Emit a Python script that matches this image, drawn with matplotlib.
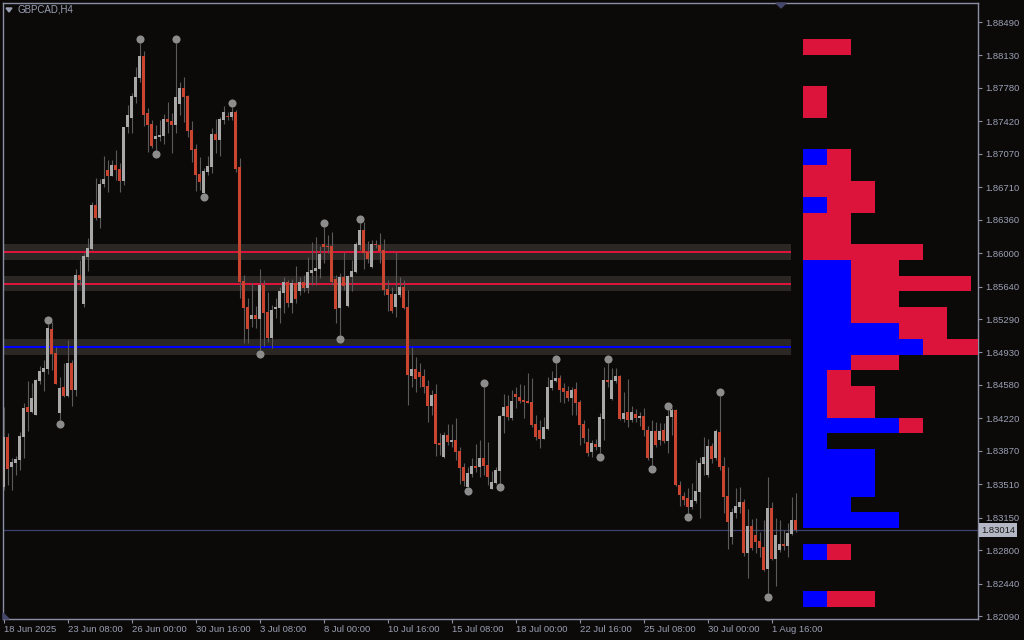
import matplotlib
matplotlib.use("Agg")
import matplotlib.pyplot as plt
import numpy as np
from matplotlib.patches import Polygon

symbol = "GBPCAD,H4"

opens = [
    1.83480, 1.84019, 1.83696, 1.83739, 1.83771, 1.84019, 1.84342, 1.84288, 1.84256, 1.84622,
    1.84719, 1.84751, 1.85182, 1.84924, 1.84278, 1.84557, 1.84460, 1.84816, 1.84525, 1.85764,
    1.85452, 1.85958, 1.86044, 1.86518, 1.86378, 1.86744, 1.86895, 1.86830, 1.86949, 1.86906,
    1.86777, 1.87358, 1.87456, 1.87682, 1.87887, 1.88124, 1.87509, 1.87391, 1.87229, 1.87251,
    1.87262, 1.87445, 1.87423, 1.87380, 1.87606, 1.87779, 1.87693, 1.87326, 1.87122, 1.86852,
    1.86647, 1.86874, 1.86928, 1.87283, 1.87219, 1.87434, 1.87477, 1.87466, 1.87520, 1.86928,
    1.85700, 1.85419, 1.85290, 1.85333, 1.85290, 1.85656, 1.85366, 1.85086, 1.85398, 1.85408,
    1.85570, 1.85689, 1.85462, 1.85678, 1.85592, 1.85689, 1.85624, 1.85786, 1.85807, 1.85829,
    1.86098, 1.86077, 1.86077, 1.85721, 1.85408, 1.85743, 1.85430, 1.85743, 1.85797, 1.86087,
    1.86249, 1.86012, 1.85850, 1.86098, 1.86087, 1.86033, 1.85613, 1.85559, 1.85419, 1.85549,
    1.85635, 1.85419, 1.84676, 1.84751, 1.84719, 1.84676, 1.84568, 1.84353, 1.84482, 1.83954,
    1.83803, 1.84040, 1.83965, 1.83986, 1.83868, 1.83696, 1.83480, 1.83620, 1.83706, 1.83696,
    1.83793, 1.83717, 1.83458, 1.83523, 1.83653, 1.84245, 1.84353, 1.84224, 1.84482, 1.84450,
    1.84417, 1.84407, 1.84396, 1.84159, 1.84094, 1.83997, 1.84105, 1.84547, 1.84622, 1.84654,
    1.84547, 1.84514, 1.84439, 1.84536, 1.84396, 1.84159, 1.83965, 1.83857, 1.83943, 1.83911,
    1.84213, 1.84633, 1.84428, 1.84622, 1.84676, 1.84213, 1.84288, 1.84202, 1.84267, 1.84224,
    1.84245, 1.84094, 1.83793, 1.84083, 1.83986, 1.84094, 1.83975, 1.84234, 1.84310, 1.83501,
    1.83383, 1.83362, 1.83264, 1.83329, 1.83426, 1.83728, 1.83609, 1.83922, 1.83793, 1.84072,
    1.83706, 1.83383, 1.82941, 1.83199, 1.83264, 1.83318, 1.82769, 1.83060, 1.82963, 1.82898,
    1.82833, 1.82596, 1.83253, 1.82704, 1.82801, 1.82866, 1.82844, 1.82973, 1.83124,
]
highs = [
    1.84342, 1.84062, 1.83793, 1.83814, 1.84072, 1.84385, 1.84622, 1.84600, 1.84644, 1.84783,
    1.84848, 1.85236, 1.85257, 1.84989, 1.84665, 1.84816, 1.85064, 1.84848, 1.85829, 1.85926,
    1.86001, 1.86163, 1.86550, 1.86809, 1.86798, 1.87046, 1.87003, 1.87003, 1.87111, 1.86971,
    1.87358, 1.87596, 1.87725, 1.88005, 1.88264, 1.88178, 1.87563, 1.87434, 1.87380, 1.87434,
    1.87499, 1.87628, 1.87509, 1.88264, 1.87843, 1.87897, 1.87703, 1.87423, 1.87175, 1.87035,
    1.86917, 1.87046, 1.87348, 1.87445, 1.87466, 1.87585, 1.87520, 1.87574, 1.87542, 1.87024,
    1.85764, 1.85516, 1.85678, 1.85430, 1.85829, 1.85710, 1.85581, 1.85441, 1.85516, 1.85635,
    1.85743, 1.85710, 1.85721, 1.85861, 1.85743, 1.85764, 1.85958, 1.86120, 1.86174, 1.86077,
    1.86281, 1.86195, 1.86227, 1.85764, 1.85786, 1.86012, 1.85764, 1.85926, 1.86120, 1.86324,
    1.86335, 1.86130, 1.86141, 1.86141, 1.86216, 1.86152, 1.85710, 1.85635, 1.86012, 1.85743,
    1.85710, 1.85602, 1.84989, 1.84881, 1.84816, 1.84751, 1.84633, 1.84525, 1.84590, 1.84062,
    1.84072, 1.84159, 1.84159, 1.84224, 1.83911, 1.83739, 1.83696, 1.83793, 1.83943, 1.83986,
    1.84557, 1.83965, 1.83653, 1.83696, 1.84256, 1.84482, 1.84471, 1.84525, 1.84557, 1.84590,
    1.84579, 1.84708, 1.84654, 1.84256, 1.84202, 1.84234, 1.84665, 1.84730, 1.84816, 1.84687,
    1.84600, 1.84568, 1.84557, 1.84611, 1.84417, 1.84202, 1.84116, 1.83986, 1.83997, 1.84278,
    1.84773, 1.84816, 1.84762, 1.84762, 1.84687, 1.84504, 1.84644, 1.84353, 1.84320, 1.84288,
    1.84331, 1.84137, 1.84202, 1.84180, 1.84170, 1.84170, 1.84310, 1.84331, 1.84320, 1.83545,
    1.83426, 1.83469, 1.83523, 1.83771, 1.83803, 1.84019, 1.83997, 1.83954, 1.84105, 1.84460,
    1.83803, 1.83696, 1.83254, 1.83469, 1.83480, 1.83351, 1.83243, 1.83135, 1.83146, 1.82995,
    1.83124, 1.83588, 1.83318, 1.83146, 1.83124, 1.83017, 1.83092, 1.83372, 1.83415,
]
lows = [
    1.83448, 1.83501, 1.83448, 1.83609, 1.83663, 1.83793, 1.84083, 1.84278, 1.84256, 1.84590,
    1.84514, 1.84698, 1.84741, 1.84590, 1.84202, 1.84450, 1.84450, 1.84353, 1.84460, 1.85656,
    1.85419, 1.85807, 1.86033, 1.86357, 1.86270, 1.86712, 1.86658, 1.86830, 1.86788, 1.86658,
    1.86734, 1.87294, 1.87294, 1.87617, 1.87843, 1.87369, 1.87089, 1.87132, 1.87111, 1.87208,
    1.87175, 1.87294, 1.87079, 1.87294, 1.87488, 1.87413, 1.87251, 1.86981, 1.86669, 1.86680,
    1.86647, 1.86841, 1.86863, 1.87079, 1.87046, 1.87391, 1.87434, 1.87434, 1.86874, 1.85516,
    1.85032, 1.85032, 1.85204, 1.85193, 1.84956, 1.84999, 1.85042, 1.84978, 1.85301, 1.85247,
    1.85355, 1.85419, 1.85355, 1.85462, 1.85549, 1.85581, 1.85570, 1.85656, 1.85656, 1.85732,
    1.85893, 1.86001, 1.85656, 1.85247, 1.85118, 1.85602, 1.85419, 1.85592, 1.85786, 1.86033,
    1.85829, 1.85893, 1.85840, 1.86055, 1.85893, 1.85549, 1.85376, 1.85355, 1.85312, 1.85527,
    1.85398, 1.84363, 1.84557, 1.84504, 1.84557, 1.84493, 1.84180, 1.84256, 1.83814, 1.83825,
    1.83793, 1.83932, 1.83911, 1.83771, 1.83512, 1.83490, 1.83480, 1.83588, 1.83642, 1.83588,
    1.83609, 1.83501, 1.83458, 1.83512, 1.83523, 1.84062, 1.84202, 1.84202, 1.84331, 1.84385,
    1.84224, 1.84385, 1.84126, 1.83986, 1.83900, 1.83997, 1.84094, 1.84525, 1.84611, 1.84396,
    1.84385, 1.84407, 1.84256, 1.84256, 1.83932, 1.83954, 1.83814, 1.83803, 1.83879, 1.83846,
    1.83986, 1.84557, 1.84417, 1.84600, 1.84202, 1.84180, 1.84126, 1.84180, 1.84180, 1.84137,
    1.84029, 1.83771, 1.83717, 1.83911, 1.83932, 1.83954, 1.83846, 1.84040, 1.83490, 1.83275,
    1.83286, 1.83199, 1.83243, 1.83308, 1.83146, 1.83609, 1.83588, 1.83739, 1.83771, 1.83663,
    1.83199, 1.82812, 1.82866, 1.83146, 1.83199, 1.82736, 1.82500, 1.82801, 1.82769, 1.82726,
    1.82575, 1.82338, 1.82693, 1.82413, 1.82779, 1.82801, 1.82726, 1.82963, 1.82995,
]
closes = [
    1.84019, 1.83674, 1.83749, 1.83782, 1.84029, 1.84331, 1.84288, 1.84439, 1.84633, 1.84730,
    1.84762, 1.85193, 1.84913, 1.84590, 1.84547, 1.84460, 1.84816, 1.84525, 1.85764, 1.85710,
    1.85969, 1.86055, 1.86518, 1.86378, 1.86744, 1.86798, 1.86830, 1.86949, 1.86895, 1.86777,
    1.87358, 1.87488, 1.87693, 1.87897, 1.88124, 1.87488, 1.87380, 1.87154, 1.87262, 1.87272,
    1.87445, 1.87413, 1.87380, 1.87682, 1.87779, 1.87682, 1.87316, 1.87111, 1.86841, 1.86766,
    1.86885, 1.86938, 1.87283, 1.87219, 1.87445, 1.87520, 1.87466, 1.87520, 1.86906, 1.85689,
    1.85408, 1.85182, 1.85333, 1.85290, 1.85656, 1.85355, 1.85086, 1.85387, 1.85419, 1.85592,
    1.85689, 1.85462, 1.85678, 1.85506, 1.85689, 1.85624, 1.85797, 1.85818, 1.85840, 1.85990,
    1.86066, 1.86066, 1.85689, 1.85398, 1.85743, 1.85646, 1.85754, 1.85807, 1.86098, 1.86249,
    1.86001, 1.85937, 1.86098, 1.86087, 1.86023, 1.85602, 1.85549, 1.85376, 1.85559, 1.85635,
    1.85408, 1.84687, 1.84751, 1.84643, 1.84665, 1.84557, 1.84353, 1.84471, 1.83943, 1.83932,
    1.84040, 1.83965, 1.83986, 1.83857, 1.83685, 1.83545, 1.83631, 1.83706, 1.83685, 1.83793,
    1.83706, 1.83588, 1.83534, 1.83663, 1.84245, 1.84342, 1.84234, 1.84407, 1.84450, 1.84407,
    1.84396, 1.84385, 1.84148, 1.84019, 1.83997, 1.84126, 1.84557, 1.84633, 1.84654, 1.84525,
    1.84504, 1.84439, 1.84525, 1.84385, 1.84148, 1.84008, 1.83846, 1.83954, 1.83911, 1.84234,
    1.84633, 1.84611, 1.84633, 1.84676, 1.84213, 1.84278, 1.84202, 1.84288, 1.84224, 1.84245,
    1.84094, 1.83793, 1.84083, 1.83932, 1.84083, 1.83975, 1.84245, 1.84310, 1.83501, 1.83394,
    1.83340, 1.83264, 1.83340, 1.83437, 1.83739, 1.83803, 1.83922, 1.83782, 1.84083, 1.83696,
    1.83372, 1.83103, 1.83210, 1.83275, 1.83318, 1.82769, 1.83060, 1.82823, 1.82887, 1.82823,
    1.82586, 1.83253, 1.82704, 1.82963, 1.82866, 1.82844, 1.82984, 1.83124, 1.83014,
]

# swing points marked with grey dots
swing_high_bars = [11, 34, 43, 57, 80, 89, 120, 138, 151, 166, 179]
swing_low_bars = [14, 38, 50, 64, 84, 116, 124, 149, 162, 171, 191]

time_label_bars = [0, 16, 32, 48, 64, 80, 96, 112, 128, 144, 160, 176, 192]
time_labels = ["18 Jun 2025", "23 Jun 08:00", "26 Jun 00:00", "30 Jun 16:00",
               "3 Jul 08:00", "8 Jul 00:00", "10 Jul 16:00", "15 Jul 08:00",
               "18 Jul 00:00", "22 Jul 16:00", "25 Jul 08:00", "30 Jul 00:00",
               "1 Aug 16:00"]
price_ticks = [1.88490, 1.88130, 1.87780, 1.87420, 1.87070, 1.86710, 1.86360,
               1.86000, 1.85640, 1.85290, 1.84930, 1.84580, 1.84220, 1.83870,
               1.83510, 1.83150, 1.82800, 1.82440, 1.82090]
last_price = 1.83014

# volume profile, rows from the top
profile_top = 1.88307
profile_step = 0.0017
profile_blue = [0, 0, 0, 0, 0, 0, 0, 1, 0, 0, 1, 0, 0, 0, 2, 2, 2, 2,
                4, 5, 2, 1, 1, 1, 4, 1, 3, 3, 3, 2, 4, 0, 1, 0, 0, 1]
profile_red = [2, 0, 0, 1, 1, 0, 0, 1, 2, 3, 2, 2, 2, 5, 2, 5, 2, 4,
               2, 3, 2, 1, 2, 2, 1, 0, 0, 0, 0, 0, 0, 0, 1, 0, 0, 2]
level_rows = [13, 15, 19]
level_colors = ["#dc143c", "#dc143c", "#0000ff"]

BG = "#0c0a08"
FG = "#9aa0b4"
BULL = "#a8a8a8"
BEAR = "#c9452f"
WICK = "#5a5a5a"

W, H = 1024, 640
fig = plt.figure(figsize=(W / 100, H / 100), dpi=100, facecolor=BG)
ax = fig.add_axes([3 / W, 21 / H, 975 / W, 616 / H], facecolor=BG)

o = np.array(opens)
h = np.array(highs)
l = np.array(lows)
c = np.array(closes)
idx = np.arange(len(o))
up = c >= o
cols = np.where(up, BULL, BEAR)

# levels (bands + lines) behind candles
band_end = 196.9
for row, lc in zip(level_rows, level_colors):
    top = profile_top - row * profile_step
    ax.fill_between([-0.125, band_end], top - profile_step, top,
                    color="#2a2725", lw=0, zorder=1)
    ax.plot([-0.125, band_end], [top - profile_step / 2] * 2,
            color=lc, lw=1.3, zorder=2, solid_capstyle="butt",
            antialiased=False)

ax.axhline(last_price, color="#3b4070", lw=0.9, zorder=2)

ax.vlines(idx, l, h, color=WICK, lw=0.8, zorder=3)
body = np.maximum(np.abs(c - o), 0.00006)
ax.bar(idx, body, bottom=np.minimum(o, c), width=0.72, color=cols,
       lw=0, zorder=4)

ax.scatter(swing_high_bars, h[swing_high_bars] + 0.00045, s=34,
           color="#8c8c8c", lw=0, zorder=5)
ax.scatter(swing_low_bars, l[swing_low_bars] - 0.00045, s=34,
           color="#8c8c8c", lw=0, zorder=5)

# volume profile on the right
prof_left = 199.875
unit = 6.0
rows = np.arange(len(profile_blue))
bottoms = profile_top - (rows + 1) * profile_step
blue = np.array(profile_blue, dtype=float)
red = np.array(profile_red, dtype=float)
ax.barh(bottoms, blue * unit, left=prof_left, height=profile_step,
        align="edge", color="#0000ff", lw=0, zorder=3)
ax.barh(bottoms, red * unit, left=prof_left + blue * unit, height=profile_step,
        align="edge", color="#dc143c", lw=0, zorder=3)

ax.set_xlim(-0.125, 243.625)
ax.set_ylim(1.82058, 1.88695)

for sp in ax.spines.values():
    sp.set_color("#8a8fa6")
    sp.set_linewidth(1.0)

font = ["Liberation Sans", "DejaVu Sans"]
ax.yaxis.tick_right()
ax.set_yticks(price_ticks)
ax.set_yticklabels([f"{p:.5f}" for p in price_ticks], family=font,
                   fontsize=6.8, color=FG)
ax.set_xticks(time_label_bars)
ax.set_xticklabels(time_labels, family=font, fontsize=6.8, color=FG, ha="left")
ax.tick_params(axis="y", direction="out", length=3, width=0.8,
               color="#8a8fa6", pad=2)
ax.tick_params(axis="x", direction="out", length=3, width=0.8,
               color="#8a8fa6", pad=1.5)

ax.text(1.003, last_price, f"{last_price:.5f}", transform=ax.get_yaxis_transform(),
        ha="left", va="center", family=font, fontsize=6.8, color="#1e1e1e",
        bbox=dict(boxstyle="square,pad=0.25", fc="#b4b8c4", ec="none"),
        zorder=6, clip_on=False)

ax.text(15 / 975, 1 - 7 / 616, symbol, transform=ax.transAxes, ha="left",
        va="center", family=font, fontsize=7, color=FG)
fig.patches.append(Polygon([[6 / W, 1 - 8 / H], [12 / W, 1 - 8 / H],
                            [9 / W, 1 - 12 / H]], closed=True,
                           transform=fig.transFigure, color=FG))
fig.patches.append(Polygon([[776 / W, 1 - 3 / H], [786 / W, 1 - 3 / H],
                            [781 / W, 1 - 8 / H]], closed=True,
                           transform=fig.transFigure, color="#44466a"))
fig.patches.append(Polygon([[3 / W, 21 / H], [9 / W, 21 / H],
                            [3 / W, 27 / H]], closed=True,
                           transform=fig.transFigure, color="#44466a"))

fig.savefig("out.png", dpi=100, facecolor=BG)
